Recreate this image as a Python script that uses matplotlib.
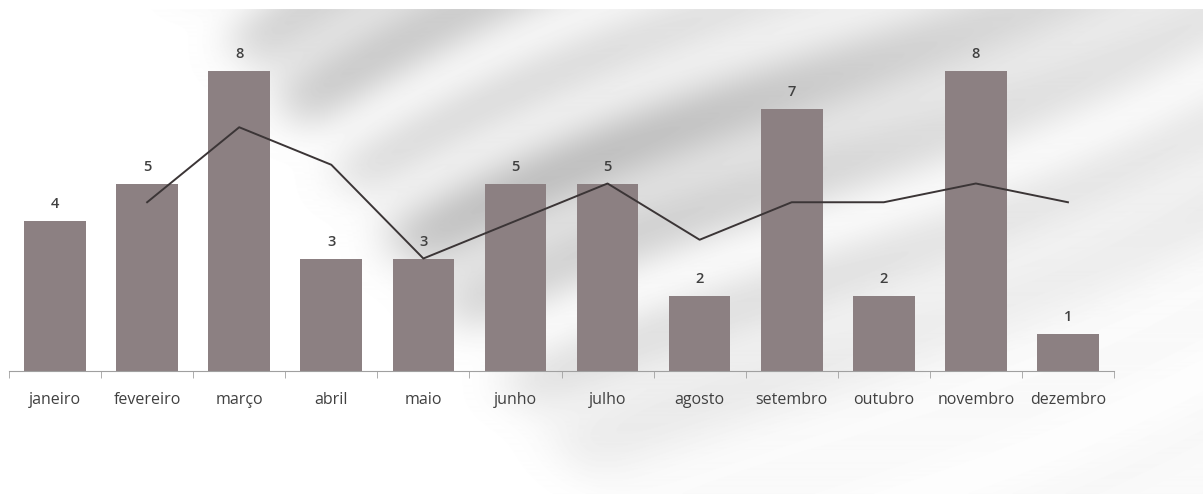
import numpy as np
import matplotlib.pyplot as plt

# dados do gráfico
meses = ["janeiro", "fevereiro", "março", "abril", "maio", "junho",
         "julho", "agosto", "setembro", "outubro", "novembro", "dezembro"]
valores = [4, 5, 8, 3, 3, 5, 5, 2, 7, 2, 8, 1]

# linha (média móvel), de fevereiro a dezembro
linha_meses = meses[1:]
linha_valores = [4.5, 6.5, 5.5, 3.0, 4.0, 5.0, 3.5, 4.5, 4.5, 5.0, 4.5]

COR_BARRA = "#8c8082"
COR_LINHA = "#3b3536"
COR_TEXTO = "#404040"


def fundo(w, h):
    # textura cinza aproximada do fundo (só decoração)
    y, x = np.mgrid[0:h, 0:w].astype(float)
    mask = 1 / (1 + np.exp(-(x - 200 - 0.8 * y) / 18))
    mask *= 1 / (1 + np.exp((y - 400 + 0.35 * (x - 650)) / 30)) * 0.75 + 0.25
    fase = x * 0.55 + y + 60 * np.sin(x / 260.0)
    faixas = (0.5 + 0.5 * np.sin(fase / 16.0)) * 0.45 + (0.5 + 0.5 * np.sin(fase / 43.0 + 1.3)) * 0.55
    centro = np.exp(-((x - 550) / 420) ** 2 - ((y - 150) / 260) ** 2)
    img = 1.0 - mask * (0.03 + (0.10 + 0.12 * centro) * faixas)
    img[y < 10] = 1.0
    return img


def main():
    W, H = 1203, 494
    fig = plt.figure(figsize=(W / 100, H / 100), dpi=100)

    bg = fig.add_axes([0, 0, 1, 1], zorder=0)
    bg.imshow(fundo(W, H), cmap="gray", vmin=0, vmax=1, aspect="auto")
    bg.axis("off")

    ax = fig.add_axes([9 / W, 123 / H, 1105 / W, 337.5 / H], zorder=1)
    ax.patch.set_alpha(0)

    x = np.arange(len(meses))
    bars = ax.bar(x, valores, width=0.67, color=COR_BARRA)
    for b, v in zip(bars, valores):
        ax.annotate(str(v), (b.get_x() + b.get_width() / 2, v), xytext=(0, 7),
                    textcoords="offset points", ha="center", va="bottom",
                    fontsize=10.5, fontweight="semibold", color=COR_TEXTO,
                    family="Open Sans")

    xl = [meses.index(m) for m in linha_meses]
    ax.plot(xl, linha_valores, color=COR_LINHA, lw=1.4)

    ax.set_xlim(-0.5, len(meses) - 0.5)
    ax.set_ylim(0, 9)
    ax.set_xticks(x)
    ax.set_xticklabels(meses, fontsize=11.5, color=COR_TEXTO, family="Open Sans")
    ax.set_xticks(np.arange(-0.5, len(meses)), minor=True)
    ax.tick_params(axis="x", which="major", length=0, pad=15)
    ax.tick_params(axis="x", which="minor", length=5, color="#a0a0a0", direction="out")
    ax.set_yticks([])
    for s in ["top", "right", "left"]:
        ax.spines[s].set_visible(False)
    ax.spines["bottom"].set_color("#a0a0a0")

    fig.savefig("out.png", dpi=100)


if __name__ == "__main__":
    main()
